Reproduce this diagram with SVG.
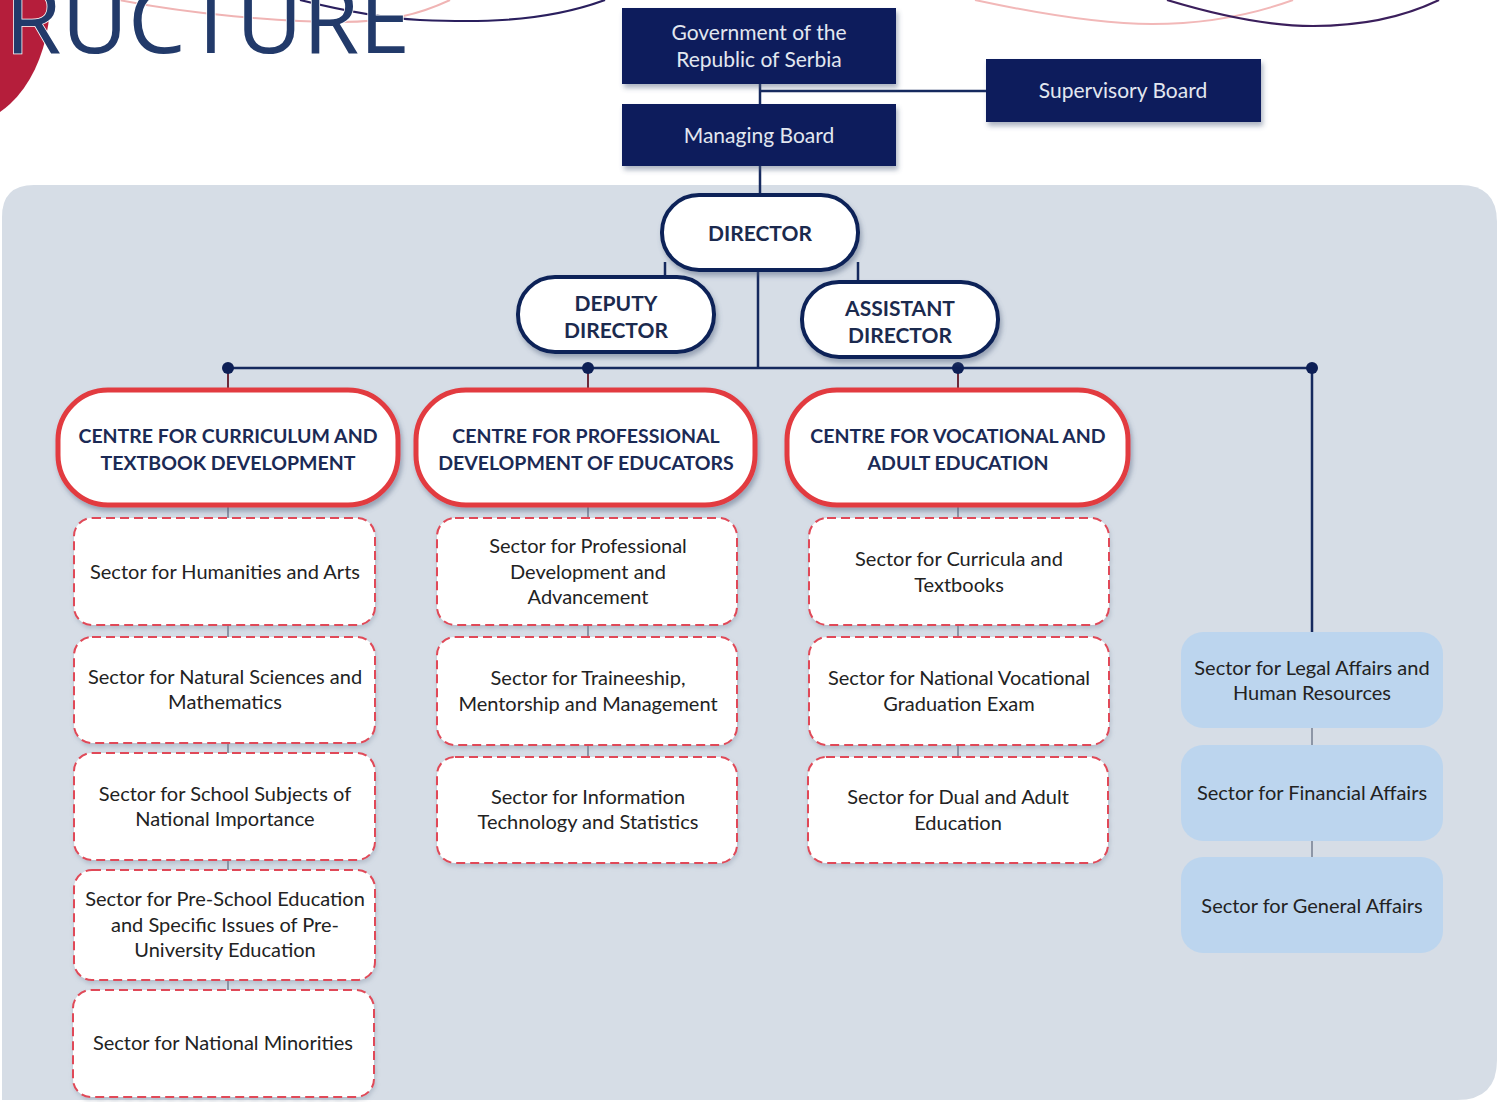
<svg xmlns="http://www.w3.org/2000/svg" width="1498" height="1102" viewBox="0 0 1498 1102">
<defs>
<filter id="sh" x="-10%" y="-10%" width="120%" height="130%">
<feDropShadow dx="2" dy="4" stdDeviation="2.5" flood-color="#4a5a78" flood-opacity="0.45"/>
</filter>
<filter id="shs" x="-10%" y="-10%" width="120%" height="130%">
<feDropShadow dx="1" dy="3" stdDeviation="2" flood-color="#7a889e" flood-opacity="0.35"/>
</filter>
<style>
.top{fill:#0b1f5c;filter:url(#sh)}
.toptx{font-family:Lato,"Open Sans",sans-serif;font-size:21px;fill:#e2e7f0;text-anchor:middle}
.dir{fill:#ffffff;stroke:#0d2459;stroke-width:4;filter:url(#sh)}
.dirtx{font-family:Lato,"Open Sans",sans-serif;font-weight:700;font-size:21px;fill:#1b2a4e;text-anchor:middle}
.cen{fill:#ffffff;stroke:#e23b3f;stroke-width:5;filter:url(#sh)}
.centx{font-family:Lato,"Open Sans",sans-serif;font-weight:700;font-size:19.5px;fill:#1b2a55;text-anchor:middle}
.sec{fill:#ffffff;stroke:#e04a58;stroke-width:2;stroke-dasharray:9 5;filter:url(#shs)}
.sectx{font-family:Lato,"Open Sans",sans-serif;font-size:20px;fill:#222222;text-anchor:middle}
.blu{fill:#bcd5ee}
.ln{stroke:#15295e;stroke-width:2.5;fill:none}
.lg{stroke:#8d96a6;stroke-width:2;fill:none}
.dot{fill:#0d1f55}
</style>
</defs>
<rect width="1498" height="1102" fill="#ffffff"/>
<g id="decor">
<ellipse cx="-40" cy="0" rx="90" ry="125" fill="#b51e3b"/>
<path d="M119,0 C190,14 280,22 340,22 C390,22 420,14 450,0" fill="none" stroke="#f0b4b4" stroke-width="2"/>
<path d="M300,0 C340,10 380,18 420,20 C470,22 540,24 605,0" fill="none" stroke="#2a1f5e" stroke-width="2.2"/>
<path d="M975,0 C1040,14 1100,24 1152,24 C1210,24 1260,12 1293,0" fill="none" stroke="#f2b8b8" stroke-width="2"/>
<path d="M1167,0 C1200,10 1260,26 1313,26 C1370,26 1410,14 1439,0" fill="none" stroke="#3b1f5c" stroke-width="2.2"/>
<text x="5" y="53" font-family="'Open Sans',Lato,sans-serif" font-weight="400" font-size="92" fill="#223a6a" stroke="#ffffff" stroke-width="1.5" paint-order="stroke" textLength="405" lengthAdjust="spacingAndGlyphs">RUCTURE</text>
</g>
<path id="panel" d="M34,185 H1460 Q1497,185 1497,222 V1060 Q1497,1100 1457,1100 H2 V217 Q2,185 34,185 Z" fill="#d6dde6"/>
<g id="connectors">
<line class="ln" x1="760" y1="84" x2="760" y2="104"/>
<line class="ln" x1="760" y1="91" x2="986" y2="91" stroke-width="2"/>
<line class="ln" x1="760" y1="166" x2="760" y2="196"/>
<line class="ln" x1="665" y1="262" x2="665" y2="279"/>
<line class="ln" x1="858" y1="262" x2="858" y2="284"/>
<line class="ln" x1="758" y1="270" x2="758" y2="368"/>
<line class="ln" x1="228" y1="368" x2="1312" y2="368"/>
<line class="ln" x1="1312" y1="368" x2="1312" y2="632"/>
<line x1="228" y1="368" x2="228" y2="392" stroke="#6b2a3a" stroke-width="2"/>
<line x1="588" y1="368" x2="588" y2="392" stroke="#6b2a3a" stroke-width="2"/>
<line x1="958" y1="368" x2="958" y2="392" stroke="#6b2a3a" stroke-width="2"/>
<circle class="dot" cx="228" cy="368" r="6"/>
<circle class="dot" cx="588" cy="368" r="6"/>
<circle class="dot" cx="958" cy="368" r="6"/>
<circle class="dot" cx="1312" cy="368" r="6"/>
<line class="lg" x1="228" y1="505" x2="228" y2="518"/>
<line class="lg" x1="228" y1="625" x2="228" y2="637"/>
<line class="lg" x1="228" y1="743" x2="228" y2="753"/>
<line class="lg" x1="228" y1="860" x2="228" y2="870"/>
<line class="lg" x1="228" y1="980" x2="228" y2="990"/>
<line class="lg" x1="588" y1="505" x2="588" y2="518"/>
<line class="lg" x1="588" y1="625" x2="588" y2="637"/>
<line class="lg" x1="588" y1="745" x2="588" y2="757"/>
<line class="lg" x1="958" y1="505" x2="958" y2="518"/>
<line class="lg" x1="958" y1="625" x2="958" y2="637"/>
<line class="lg" x1="958" y1="745" x2="958" y2="757"/>
<line class="lg" x1="1312" y1="728" x2="1312" y2="745"/>
<line class="lg" x1="1312" y1="841" x2="1312" y2="857"/>
</g>
<g id="gov"><rect class="top" x="622" y="8" width="274" height="76"/><text class="toptx" x="759" y="40">Government of the</text><text class="toptx" x="759" y="67">Republic of Serbia</text></g>
<g id="managing"><rect class="top" x="622" y="104" width="274" height="62"/><text class="toptx" x="759" y="143">Managing Board</text></g>
<g id="supervisory"><rect class="top" x="986" y="59" width="275" height="63"/><text class="toptx" x="1123" y="98">Supervisory Board</text></g>
<g id="director"><rect class="dir" x="662" y="195" width="196" height="75" rx="37"/><text class="dirtx" x="760" y="241">DIRECTOR</text></g>
<g id="deputy"><rect class="dir" x="518" y="277" width="196" height="75" rx="37"/><text class="dirtx" x="616" y="311">DEPUTY</text><text class="dirtx" x="616" y="338">DIRECTOR</text></g>
<g id="assistant"><rect class="dir" x="802" y="282" width="196" height="75" rx="37"/><text class="dirtx" x="900" y="316">ASSISTANT</text><text class="dirtx" x="900" y="343">DIRECTOR</text></g>
<g id="centre1"><rect class="cen" x="58" y="390" width="340" height="115" rx="50"/><text class="centx" x="228" y="443">CENTRE FOR CURRICULUM AND</text><text class="centx" x="228" y="470">TEXTBOOK DEVELOPMENT</text></g>
<g id="centre2"><rect class="cen" x="416" y="390" width="339" height="115" rx="50"/><text class="centx" x="586" y="443">CENTRE FOR PROFESSIONAL</text><text class="centx" x="586" y="470">DEVELOPMENT OF EDUCATORS</text></g>
<g id="centre3"><rect class="cen" x="787" y="390" width="341" height="115" rx="50"/><text class="centx" x="958" y="443">CENTRE FOR VOCATIONAL AND</text><text class="centx" x="958" y="470">ADULT EDUCATION</text></g>
<g id="s11"><rect class="sec" x="74" y="518" width="301" height="107" rx="18"/><text class="sectx" x="225" y="579">Sector for Humanities and Arts</text></g>
<g id="s12"><rect class="sec" x="74" y="637" width="301" height="106" rx="18"/><text class="sectx" x="225" y="684">Sector for Natural Sciences and</text><text class="sectx" x="225" y="709">Mathematics</text></g>
<g id="s13"><rect class="sec" x="74" y="753" width="301" height="107" rx="18"/><text class="sectx" x="225" y="801">Sector for School Subjects of</text><text class="sectx" x="225" y="826">National Importance</text></g>
<g id="s14"><rect class="sec" x="74" y="870" width="301" height="110" rx="18"/><text class="sectx" x="225" y="906">Sector for Pre-School Education</text><text class="sectx" x="225" y="932">and Specific Issues of Pre-</text><text class="sectx" x="225" y="957">University Education</text></g>
<g id="s15"><rect class="sec" x="73" y="990" width="301" height="107" rx="18"/><text class="sectx" x="223" y="1050">Sector for National Minorities</text></g>
<g id="s21"><rect class="sec" x="437" y="518" width="300" height="107" rx="18"/><text class="sectx" x="588" y="553">Sector for Professional</text><text class="sectx" x="588" y="579">Development and</text><text class="sectx" x="588" y="604">Advancement</text></g>
<g id="s22"><rect class="sec" x="437" y="637" width="300" height="108" rx="18"/><text class="sectx" x="588" y="685">Sector for Traineeship,</text><text class="sectx" x="588" y="711">Mentorship and Management</text></g>
<g id="s23"><rect class="sec" x="437" y="757" width="300" height="106" rx="18"/><text class="sectx" x="588" y="804">Sector for Information</text><text class="sectx" x="588" y="829">Technology and Statistics</text></g>
<g id="s31"><rect class="sec" x="809" y="518" width="300" height="107" rx="18"/><text class="sectx" x="959" y="566">Sector for Curricula and</text><text class="sectx" x="959" y="592">Textbooks</text></g>
<g id="s32"><rect class="sec" x="809" y="637" width="300" height="108" rx="18"/><text class="sectx" x="959" y="685">Sector for National Vocational</text><text class="sectx" x="959" y="711">Graduation Exam</text></g>
<g id="s33"><rect class="sec" x="808" y="757" width="300" height="106" rx="18"/><text class="sectx" x="958" y="804">Sector for Dual and Adult</text><text class="sectx" x="958" y="830">Education</text></g>
<g id="r1"><rect class="blu" x="1181" y="632" width="262" height="96" rx="22"/><text class="sectx" x="1312" y="675">Sector for Legal Affairs and</text><text class="sectx" x="1312" y="700">Human Resources</text></g>
<g id="r2"><rect class="blu" x="1181" y="745" width="262" height="96" rx="22"/><text class="sectx" x="1312" y="800">Sector for Financial Affairs</text></g>
<g id="r3"><rect class="blu" x="1181" y="857" width="262" height="96" rx="22"/><text class="sectx" x="1312" y="913">Sector for General Affairs</text></g>
</svg>
